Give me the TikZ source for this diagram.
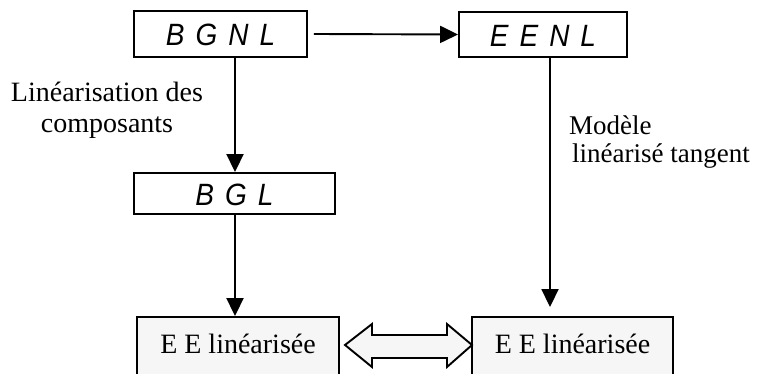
\documentclass[tikz,border=0pt]{standalone}
\usepackage{fontspec}
\setmainfont{Liberation Serif}
\newfontfamily\arialfam{Liberation Sans}
\usetikzlibrary{arrows.meta}
\definecolor{boxgray}{HTML}{F6F6F6}
\newcommand\sansit{\fontsize{28}{30}\selectfont\arialfam\itshape\spaceskip=11pt\relax}
\newcommand\serifbig{\fontsize{28}{31}\selectfont}
\begin{document}
\begin{tikzpicture}[x=1pt,y=-1pt,
  sbox/.style={draw, line width=1.9pt, fill=white, inner sep=0pt, font=\sansit, text height=24pt, text depth=0pt},
  ebox/.style={draw, line width=1.9pt, fill=boxgray, inner sep=0pt, font=\serifbig, text height=20pt, text depth=10pt},
  arr/.style={-{Triangle[length=18pt,width=17pt]}, line width=1.9pt},
  lbl/.style={inner sep=0pt, font=\serifbig}]
\useasboundingbox (0,0) rectangle (760,374);
\fill[white] (0,0) rectangle (760,374);
\clip (0,0) rectangle (760,374);
\node[sbox, minimum width=173pt, minimum height=46pt] (bgnl) at (220.5,34) {\scalebox{1}[1.1]{B G N L}};
\node[sbox, minimum width=168pt, minimum height=45pt] (eenl) at (543,34.5) {\scalebox{1}[1.1]{E E N L}};
\node[sbox, minimum width=201pt, minimum height=41pt] (bgl) at (234.5,193.5) {\scalebox{1}[1.1]{B G L}};
\node[ebox, minimum width=202pt, minimum height=62pt] (el) at (238,348) {E E linéarisée};
\node[ebox, minimum width=201pt, minimum height=62pt] (er) at (572.5,348) {E E linéarisée};
\coordinate (c1) at (235,0);
\coordinate (c2) at (550,0);
\draw[arr] ([xshift=6pt]bgnl.east) -- (eenl.west);
\draw[arr] (bgnl.south -| c1) -- (bgl.north -| c1);
\draw[arr] (bgl.south -| c1) -- (el.north -| c1);
\draw[arr] (eenl.south -| c2) -- ([yshift=9pt]er.north -| c2);
\draw[line width=1.9pt, fill=boxgray, line join=miter]
  (345,345) -- (372,324) -- (372,335) -- (447,335) -- (447,324) -- (472,345)
  -- (447,367) -- (447,358) -- (372,358) -- (372,367) -- cycle;
\node[lbl, align=center, anchor=base] (lab1) at (107,133) {Linéarisation des\\composants};
\node[lbl, align=left, anchor=base west, font=\fontsize{27}{28}\selectfont] (lab2) at (569,163) {Modèle\\\hspace{3pt}linéarisé tangent};
\end{tikzpicture}
\end{document}
